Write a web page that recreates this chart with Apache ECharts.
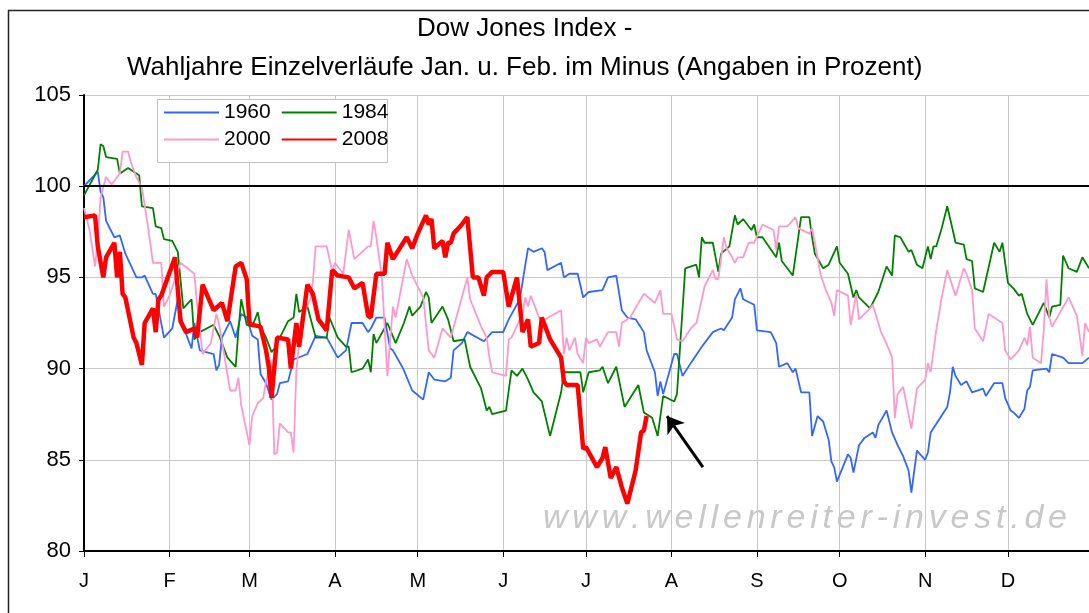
<!DOCTYPE html>
<html>
<head>
<meta charset="utf-8">
<script src="https://cdn.jsdelivr.net/npm/echarts@6/dist/echarts.min.js"></script>
<style>
  html, body { margin: 0; padding: 0; background: #fff; }
  #main { width: 1089px; height: 613px; }
</style>
</head>
<body>
<div id="main"></div>
<script>
// day of year (leap calendar) where each month starts, and the axis letters
var monthStarts = [0, 31, 60, 91, 121, 152, 182, 213, 244, 274, 305, 335];
var monthLabels = ['J', 'F', 'M', 'A', 'M', 'J', 'J', 'A', 'S', 'O', 'N', 'D'];

var titleLines = ['Dow Jones Index -', 'Wahljahre Einzelverläufe Jan. u. Feb. im Minus (Angaben in Prozent)'];

// [day of year, index value in %]
var s1960 = [[0,100.0],[5,100.8],[6,99.7],[7,99.4],[8,98.1],[11,97.2],[13,97.3],[15,96.3],[19,95.0],[21,95.0],[22,95.1],[25,94.1],[26,94.1],[29,91.7],[32,92.2],[34,93.8],[36,92.3],[39,91.1],[40,92.5],[42,91.0],[47,90.8],[48,89.9],[49,90.2],[50,91.7],[53,92.6],[55,91.7],[57,93.0],[59,92.8],[61,91.8],[63,91.6],[64,89.7],[66,89.2],[68,88.3],[70,88.6],[71,89.2],[74,89.3],[76,90.5],[81,90.8],[84,91.8],[88,91.7],[92,90.6],[95,91.0],[97,92.5],[101,92.5],[103,92.0],[104,92.2],[106,92.8],[109,92.8],[111,91.1],[112,91.0],[115,90.2],[116,89.9],[119,88.8],[123,88.3],[125,89.8],[127,89.4],[131,89.3],[133,89.5],[134,91.0],[137,91.4],[139,92.0],[145,91.5],[148,92.0],[152,92.0],[154,92.7],[158,93.8],[161,96.6],[163,96.4],[166,96.6],[167,96.4],[168,95.4],[173,95.8],[174,95.0],[176,95.2],[179,95.2],[181,93.9],[183,94.2],[188,94.3],[190,95.0],[193,95.1],[195,93.2],[197,92.8],[200,92.7],[203,92.0],[204,91.0],[207,89.8],[208,88.5],[209,89.3],[210,88.6],[214,90.8],[215,90.8],[217,89.6],[220,90.3],[224,91.2],[228,92.0],[231,92.2],[232,92.1],[235,92.8],[236,93.8],[238,94.4],[239,93.8],[243,93.5],[244,92.1],[249,92.0],[251,91.4],[252,90.1],[255,90.3],[257,89.8],[258,90.0],[260,88.7],[263,88.7],[264,86.3],[266,87.4],[268,87.1],[270,86.1],[271,84.9],[272,84.6],[273,83.8],[277,85.3],[278,85.1],[279,84.3],[281,85.8],[283,86.2],[286,86.5],[287,86.2],[288,86.9],[291,87.7],[293,86.5],[295,85.8],[297,85.2],[299,84.4],[300,83.2],[302,85.5],[305,85.0],[306,85.4],[307,86.5],[310,87.2],[313,87.9],[314,88.7],[315,90.1],[316,89.6],[318,89.1],[320,89.3],[322,88.7],[326,88.9],[327,88.5],[330,89.2],[333,89.2],[334,88.4],[336,87.7],[337,87.6],[339,87.3],[341,87.8],[342,88.8],[343,89.0],[344,89.9],[349,90.0],[350,89.8],[351,90.8],[355,90.6],[357,90.3],[362,90.3],[364.4,90.6]];

var s1984 = [[0,99.5],[5,100.9],[6,102.3],[7,102.2],[8,101.6],[12,101.5],[13,100.7],[16,101.0],[19,100.7],[20,100.6],[21,98.9],[25,98.8],[26,97.8],[28,97.7],[29,97.1],[32,97.0],[34,96.4],[36,93.3],[39,93.8],[40,91.6],[42,92.0],[47,92.4],[49,91.8],[52,90.6],[55,90.1],[56,92.1],[57,93.8],[59,92.4],[61,92.3],[63,93.1],[64,92.3],[66,91.7],[68,90.9],[69,91.1],[71,91.7],[74,92.6],[76,92.8],[77,94.1],[78,93.1],[81,93.4],[84,91.7],[88,91.7],[89,92.8],[92,91.7],[95,91.2],[96,91.2],[97,89.8],[101,90.0],[103,90.5],[104,89.8],[105,91.9],[106,91.4],[110,92.5],[113,91.4],[116,92.5],[118,93.4],[119,92.9],[122,93.4],[124,94.2],[125,93.9],[126,92.5],[130,93.4],[132,92.7],[134,91.5],[138,91.6],[140,90.1],[144,88.9],[146,87.7],[147,87.9],[148,87.5],[153,87.7],[155,89.9],[157,89.6],[159,90.0],[161,89.4],[163,88.7],[166,88.2],[169,86.3],[173,88.7],[174,89.8],[176,89.8],[180,89.8],[181,88.7],[183,89.8],[187,89.9],[188,90.1],[190,89.2],[193,90.1],[196,87.9],[201,89.1],[203,87.6],[206,87.3],[208,86.3],[210,88.5],[214,88.2],[215,88.6],[218,95.5],[222,95.7],[223,95.0],[224,97.2],[225,96.9],[228,96.9],[230,95.3],[231,96.3],[234,96.7],[236,98.4],[237,97.9],[239,98.2],[242,97.6],[243,97.9],[244,97.2],[246,97.2],[251,96.1],[252,96.9],[253,95.9],[257,95.1],[260,98.3],[263,98.3],[264,97.2],[265,96.3],[268,95.5],[270,95.7],[273,96.7],[274,95.8],[277,95.2],[279,93.9],[280,94.3],[281,93.9],[285,93.3],[288,94.2],[291,95.6],[293,95.1],[294,97.3],[296,97.2],[299,96.4],[300,96.5],[302,95.7],[304,95.5],[306,96.7],[307,96.0],[308,96.7],[309,96.7],[311,97.7],[313,98.9],[315,97.6],[316,96.9],[319,96.8],[320,96.0],[322,95.9],[323,94.4],[326,94.2],[330,96.9],[332,96.4],[333,96.9],[335,94.7],[337,94.4],[339,94.0],[340,94.1],[342,93.0],[344,92.4],[348,93.6],[350,92.8],[351,93.4],[354,93.5],[355,96.2],[357,95.5],[360,95.3],[362,96.1],[364.4,95.5]];

var s2000 = [[0,98.8],[2,97.6],[4,95.6],[5,97.0],[6,99.4],[8,100.5],[10,100.1],[11,100.3],[13,100.7],[14,101.9],[16,101.9],[17,101.3],[19,100.5],[21,99.9],[23,98.0],[25,95.8],[28,95.8],[29,93.4],[31,94.0],[35,95.8],[40,95.2],[41,93.5],[43,90.8],[46,91.4],[48,93.0],[49,92.4],[53,88.8],[55,88.8],[56,89.5],[57,88.0],[60,85.8],[61,87.4],[63,88.1],[65,88.4],[66,89.3],[68,90.5],[69,85.3],[70,85.4],[71,87.0],[74,86.5],[75,86.5],[76,85.4],[77,89.9],[79,92.8],[82,93.8],[83,94.8],[84,96.7],[88,96.7],[90,95.3],[91,95.8],[94,95.2],[96,97.6],[98,96.0],[103,96.7],[104,96.7],[105,98.1],[106,97.2],[108,95.0],[110,89.6],[112,93.4],[113,92.8],[117,96.0],[119,95.1],[123,93.9],[125,91.0],[127,90.6],[130,92.2],[133,91.7],[139,95.0],[140,93.8],[144,92.3],[146,91.7],[147,90.6],[148,89.8],[153,89.6],[154,91.6],[155,91.7],[159,93.0],[160,93.9],[161,93.4],[162,94.0],[165,92.8],[166,92.6],[173,93.2],[174,90.8],[175,91.7],[176,91.0],[178,91.7],[179,90.8],[181,90.3],[182,91.7],[183,91.4],[186,91.6],[187,91.2],[190,92.0],[193,92.0],[194,91.2],[195,92.5],[198,92.8],[203,94.1],[207,93.6],[209,94.3],[210,93.0],[213,93.0],[215,91.6],[217,91.5],[220,92.2],[222,92.5],[223,93.1],[225,94.5],[228,95.4],[229,94.9],[230,94.9],[232,97.2],[233,96.6],[235,96.1],[236,95.8],[237,96.1],[239,96.1],[241,96.9],[243,96.9],[246,97.9],[250,97.6],[251,96.5],[252,97.8],[255,97.8],[258,98.3],[259,97.7],[263,97.4],[264,97.7],[265,96.9],[267,95.2],[269,94.3],[271,93.6],[272,92.9],[273,94.3],[277,94.0],[278,92.4],[280,94.1],[281,92.7],[285,93.3],[286,93.5],[289,92.0],[290,91.7],[292,91.0],[293,90.6],[294,87.3],[295,88.6],[297,89.0],[300,86.7],[302,88.9],[305,89.4],[306,90.3],[307,89.8],[309,92.1],[311,93.9],[313,95.4],[316,94.0],[319,95.5],[320,95.2],[322,94.3],[323,92.2],[326,91.5],[328,93.0],[330,92.8],[333,92.5],[334,91.0],[336,90.5],[339,91.0],[341,91.7],[342,91.3],[343,92.3],[344,90.6],[347,90.3],[348,92.1],[349,94.9],[350,92.8],[351,92.3],[357,93.9],[360,92.9],[362,90.7],[363,92.5],[364.4,92.0]];

var s2008 = [[0,98.3],[4,98.4],[5,96.7],[7,95.0],[8,96.1],[11,96.9],[12,95.0],[13,96.4],[14,94.1],[15,93.9],[18,91.7],[19,91.4],[21,90.2],[22,92.5],[25,93.3],[26,92.0],[27,93.8],[28,94.0],[33,96.1],[35,92.6],[37,92.0],[40,92.2],[41,91.7],[43,94.6],[47,93.2],[50,93.6],[52,92.6],[55,95.6],[57,95.8],[59,94.9],[60,92.5],[61,92.4],[64,92.3],[66,91.0],[67,90.1],[68,88.4],[70,91.7],[74,91.6],[75,90.0],[77,92.5],[78,91.2],[81,94.6],[83,94.1],[85,92.7],[88,92.1],[90,95.4],[92,95.1],[96,95.0],[98,94.4],[101,94.7],[103,92.9],[104,92.8],[106,95.2],[109,95.2],[110,96.9],[112,96.0],[117,97.2],[119,96.6],[121,97.4],[124,98.4],[125,97.9],[126,98.2],[127,96.6],[130,97.0],[131,96.1],[132,96.9],[133,96.9],[134,97.4],[137,97.9],[139,98.3],[141,95.0],[143,95.0],[145,94.0],[146,95.0],[148,95.3],[152,95.3],[154,93.4],[157,95.0],[159,92.0],[161,92.7],[162,91.2],[165,91.4],[166,92.8],[169,91.6],[173,90.6],[174,89.3],[175,89.1],[179,89.1],[181,85.6],[182,85.7],[186,84.6],[188,85.1],[189,85.7],[191,84.0],[193,84.6],[195,83.5],[197,82.6],[200,84.4],[202,86.5],[203,86.6],[204,87.4]];

// annotation arrow: tail and tip, in [day, value]
var arrowTail = [224.4, 84.6];
var arrowTip = [211.4, 87.4];

var chart = echarts.init(document.getElementById('main'));

var ctx = document.createElement('canvas').getContext('2d');

// title: two lines centred on x = 525
var titleFont = '26px "Liberation Sans"';
ctx.font = titleFont;
var titles = titleLines.map(function (t, k) {
    return {
        text: t,
        left: Math.round(525 - ctx.measureText(t).width / 2),
        top: k === 0 ? 16 : 55,
        padding: 0,
        textStyle: { fontSize: 26, fontWeight: 'normal', fontFamily: 'Liberation Sans', color: '#000' }
    };
});

// watermark, spread out letter by letter like the original
var wmText = 'www.wellenreiter-invest.de';
var wmFont = 'italic 34px "Liberation Sans"';
ctx.font = wmFont;
var widths = [], total = 0;
for (var i = 0; i < wmText.length; i++) {
    var w = ctx.measureText(wmText[i]).width;
    widths.push(w);
    total += w;
}
var wmLeft = 543, wmWidth = 524;
var spacing = (wmWidth - total) / (wmText.length - 1);
var graphics = [
    {
        type: 'rect', z: 0, silent: true,
        shape: { x: 8.5, y: 10.5, width: 1200, height: 700 },
        style: { fill: 'none', stroke: '#222', lineWidth: 1.5 }
    },
    {
        type: 'rect', z: 10, silent: true,
        shape: { x: 157.5, y: 99.5, width: 230, height: 63 },
        style: { fill: '#fff', stroke: '#c0c0c0', lineWidth: 1 }
    }
];
var cx = wmLeft;
for (var j = 0; j < wmText.length; j++) {
    graphics.push({
        type: 'text', z: 5, silent: true,
        x: cx, y: 502,
        style: { text: wmText[j], font: wmFont, fill: '#c8c8c8' }
    });
    cx += widths[j] + spacing;
}

function lineSeries(name, data, color, width) {
    return {
        name: name,
        type: 'line',
        data: data,
        symbol: 'none',
        color: color,
        lineStyle: { color: color, width: width },
        z: 3
    };
}

var series = [
    lineSeries('1960', s1960, '#3366ff', 1.8),
    lineSeries('1984', s1984, '#008000', 1.8),
    lineSeries('2000', s2000, '#ff99cc', 1.8),
    lineSeries('2008', s2008, '#ff0000', 4.5)
];
series[0].markLine = {
    silent: true,
    symbol: 'none',
    label: { show: false },
    lineStyle: { color: '#000', width: 2, type: 'solid' },
    data: [{ yAxis: 100 }]
};
series[1].markLine = {
    silent: true,
    symbol: ['none', 'arrow'],
    symbolSize: 16,
    label: { show: false },
    lineStyle: { color: '#000', width: 3, type: 'solid' },
    data: [[{ coord: arrowTail }, { coord: arrowTip }]]
};

var legendText = { fontSize: 21, fontFamily: 'Liberation Sans', color: '#000' };

chart.setOption({
    animation: false,
    backgroundColor: '#fff',
    title: titles,
    legend: [
        {
            data: ['1960', '1984'], left: 163, top: 102, padding: 0,
            itemWidth: 55, itemHeight: 14, itemGap: 10, z: 11,
            itemStyle: { opacity: 0 },
            textStyle: legendText
        },
        {
            data: ['2000', '2008'], left: 163, top: 129, padding: 0,
            itemWidth: 55, itemHeight: 14, itemGap: 10, z: 11,
            itemStyle: { opacity: 0 },
            textStyle: legendText
        }
    ],
    graphic: graphics,
    grid: { left: 84, top: 95, right: 0, bottom: 62 },
    xAxis: {
        type: 'value',
        min: 0,
        max: 364.4,
        axisLine: { lineStyle: { color: '#000', width: 2 } },
        axisTick: { show: true, length: 6, lineStyle: { color: '#000' }, customValues: monthStarts },
        axisLabel: {
            customValues: monthStarts,
            margin: 20,
            fontSize: 20,
            fontFamily: 'Liberation Sans',
            color: '#000',
            formatter: function (v) {
                var k = monthStarts.indexOf(v);
                return k >= 0 ? monthLabels[k] : '';
            }
        },
        splitLine: { show: true, lineStyle: { color: '#c8c8c8', width: 1 } }
    },
    yAxis: {
        type: 'value',
        min: 80,
        max: 105,
        interval: 5,
        axisLine: { show: true, lineStyle: { color: '#000', width: 2 } },
        axisTick: { show: true, length: 5, lineStyle: { color: '#000' } },
        axisLabel: { margin: 13, fontSize: 22, fontFamily: 'Liberation Sans', color: '#000' },
        splitLine: { show: true, lineStyle: { color: '#c8c8c8', width: 1 } }
    },
    series: series
});
</script>
</body>
</html>
